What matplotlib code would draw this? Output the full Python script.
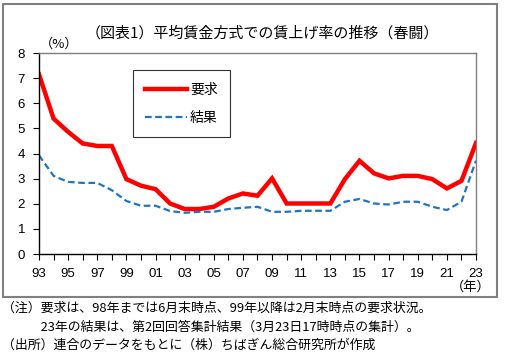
import matplotlib
matplotlib.use("Agg")
import matplotlib.pyplot as plt
from matplotlib.patches import Rectangle
from matplotlib.ticker import MultipleLocator

JP = ["Noto Sans CJK JP", "DejaVu Sans"]
NUM = ["Liberation Sans", "DejaVu Sans"]
RED = "#FF0000"
BLUE = "#1F74C4"
FRAME = "#808080"

years = list(range(1993, 2024))
tick_labels = [f"{y % 100:02d}" for y in years[::2]]
demand = [7.15, 5.39, 4.86, 4.40, 4.30, 4.30, 2.98, 2.72, 2.58, 2.01, 1.79,
          1.79, 1.88, 2.21, 2.41, 2.32, 3.01, 2.01, 2.01, 2.01, 2.01, 2.98,
          3.71, 3.21, 3.01, 3.11, 3.11, 2.98, 2.61, 2.91, 4.42]
result = [3.93, 3.11, 2.87, 2.83, 2.83, 2.54, 2.11, 1.92, 1.92, 1.71, 1.64,
          1.68, 1.68, 1.79, 1.84, 1.88, 1.68, 1.68, 1.72, 1.72, 1.72, 2.08,
          2.19, 2.01, 1.97, 2.08, 2.08, 1.88, 1.75, 2.08, 3.72]
series_names = ["要求", "結果"]
title = "（図表1）平均賃金方式での賃上げ率の推移（春闘）"
notes = [
    "（注）要求は、98年までは6月末時点、99年以降は2月末時点の要求状況。",
    "　　　23年の結果は、第2回回答集計結果（3月23日17時時点の集計）。",
    "（出所）連合のデータをもとに（株）ちばぎん総合研究所が作成",
]

fig = plt.figure(figsize=(5.05, 3.55), dpi=100)
fig.patches.append(Rectangle((0.005, 0.163), 0.98, 0.826, transform=fig.transFigure,
                             fill=False, edgecolor=FRAME, linewidth=1.5))

ax = fig.add_axes([0.0772, 0.2845, 0.8654, 0.5662])
ax.plot(years, demand, color=RED, linewidth=3.2, label=series_names[0], solid_joinstyle="miter")
ax.plot(years, result, color=BLUE, linewidth=1.6, linestyle=(0, (3, 1.6)), label=series_names[1])

ax.set_xlim(1993, 2023)
ax.set_ylim(0, 8)
ax.set_xticks(years[::2])
ax.set_xticklabels(tick_labels, fontfamily=NUM, fontsize=9.5)
ax.xaxis.set_minor_locator(MultipleLocator(1))
ax.yaxis.set_major_locator(MultipleLocator(1))
for lab in ax.get_yticklabels():
    lab.set_fontfamily(NUM)
    lab.set_fontsize(9.5)
ax.tick_params(axis="x", which="both", direction="out", length=4, width=0.8, color="black", pad=6)
ax.tick_params(axis="y", direction="out", length=4, width=0.8, color="black", pad=6)
for side in ("left", "bottom"):
    ax.spines[side].set_color("black")
    ax.spines[side].set_linewidth(1.0)
for side in ("top", "right"):
    ax.spines[side].set_color(FRAME)
    ax.spines[side].set_linewidth(1.0)

leg = ax.legend(loc="upper left", bbox_to_anchor=(0.215, 0.915), prop={"family": JP, "size": 10},
                frameon=True, fancybox=False, edgecolor="black", handlelength=3.0,
                handletextpad=0.2, labelspacing=1.0, borderpad=0.9, borderaxespad=0)
leg.get_frame().set_linewidth(0.8)

fig.text(0.52, 0.905, title, ha="center", va="center", fontfamily=JP, fontsize=10.8)
fig.text(0.078, 0.874, "（%）", ha="left", va="center", fontfamily=JP, fontsize=9.5)
fig.text(0.972, 0.19, "（年）", ha="right", va="center", fontfamily=JP, fontsize=9.5)
for i, line in enumerate(notes):
    fig.text(0.004, 0.131 - i * 0.052, line, ha="left", va="center", fontfamily=JP, fontsize=9.3)

fig.savefig("out.png", dpi=100, facecolor="white")
